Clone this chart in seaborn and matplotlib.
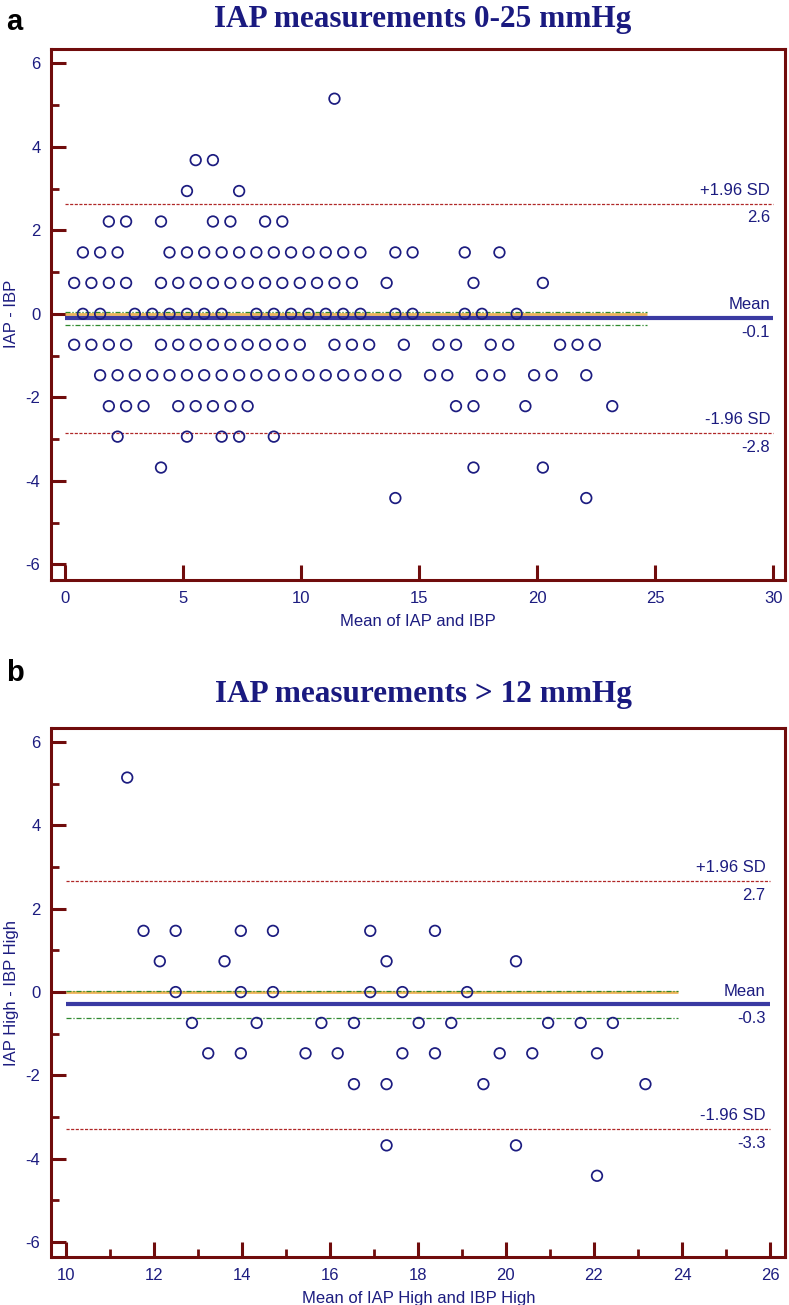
import matplotlib
matplotlib.use("Agg")
import matplotlib.pyplot as plt
from matplotlib.ticker import MultipleLocator
import numpy as np
import pandas as pd
import seaborn as sns

# ---------------- data ----------------
# Panel a: IAP measurements 0-25 mmHg  (difference level -> list of means)
a_levels = [5.15, 3.68, 2.94, 2.21, 1.47, 0.74, 0.0, -0.74, -1.47, -2.21, -2.94, -3.68, -4.41]
a_means = [
    [11.40],
    [5.52, 6.25],
    [5.15, 7.36],
    [1.84, 2.57, 4.05, 6.25, 6.99, 8.46, 9.19],
    [0.74, 1.47, 2.21, 4.41, 5.15, 5.88, 6.62, 7.36, 8.09, 8.83, 9.56, 10.30, 11.03,
     11.77, 12.50, 13.98, 14.71, 16.92, 18.39],
    [0.37, 1.10, 1.84, 2.57, 4.05, 4.78, 5.52, 6.25, 6.99, 7.72, 8.46, 9.19, 9.93,
     10.66, 11.40, 12.14, 13.61, 17.29, 20.23],
    [0.74, 1.47, 2.94, 3.68, 4.41, 5.15, 5.88, 6.62, 8.09, 8.83, 9.56, 10.30, 11.03,
     11.77, 12.50, 13.98, 14.71, 16.92, 17.65, 19.12],
    [0.37, 1.10, 1.84, 2.57, 4.05, 4.78, 5.52, 6.25, 6.99, 7.72, 8.46, 9.19, 9.93,
     11.40, 12.14, 12.87, 14.34, 15.81, 16.55, 18.02, 18.76, 20.96, 21.70, 22.43],
    [1.47, 2.21, 2.94, 3.68, 4.41, 5.15, 5.88, 6.62, 7.36, 8.09, 8.83, 9.56, 10.30,
     11.03, 11.77, 12.50, 13.24, 13.98, 15.45, 16.18, 17.65, 18.39, 19.86, 20.60, 22.07],
    [1.84, 2.57, 3.31, 4.78, 5.52, 6.25, 6.99, 7.72, 16.55, 17.29, 19.49, 23.17],
    [2.21, 5.15, 6.62, 7.36, 8.83],
    [4.05, 17.29, 20.23],
    [13.98, 22.07],
]
a_stats = {"mean": -0.1, "ci_hi": 0.04, "ci_lo": -0.26, "sd_hi": 2.64, "sd_lo": -2.85}
a_stat_labels = ["2.6", "-0.1", "-2.8"]

# Panel b: IAP measurements > 12 mmHg
b_levels = [5.15, 1.47, 0.74, 0.0, -0.74, -1.47, -2.21, -3.68, -4.41]
b_means = [
    [11.40],
    [11.77, 12.50, 13.98, 14.71, 16.92, 18.39],
    [12.14, 13.61, 17.29, 20.23],
    [12.50, 13.98, 14.71, 16.92, 17.65, 19.12],
    [12.87, 14.34, 15.81, 16.55, 18.02, 18.76, 20.96, 21.70, 22.43],
    [13.24, 13.98, 15.45, 16.18, 17.65, 18.39, 19.86, 20.60, 22.07],
    [16.55, 17.29, 19.49, 23.17],
    [17.29, 20.23],
    [22.07],
]
b_stats = {"mean": -0.29, "ci_hi": 0.02, "ci_lo": -0.63, "sd_hi": 2.67, "sd_lo": -3.28}
b_stat_labels = ["2.7", "-0.3", "-3.3"]

titles = ["IAP measurements 0-25 mmHg", "IAP measurements > 12 mmHg"]
xlabels = ["Mean of IAP and IBP", "Mean of IAP High and IBP High"]
ylabels = ["IAP - IBP", "IAP High - IBP High"]
panel_tags = ["a", "b"]


def to_frame(levels, means):
    rows = [(m, d) for d, ms in zip(levels, means) for m in ms]
    return pd.DataFrame(rows, columns=["mean", "diff"])


dfa = to_frame(a_levels, a_means)
dfb = to_frame(b_levels, b_means)

# ---------------- styling ----------------
sns.set_theme(style="white")
plt.rcParams["font.family"] = ["Liberation Sans", "DejaVu Sans"]
plt.rcParams["axes.unicode_minus"] = False

NAVY = "#1c1c80"
MAROON = "#700c0c"
BLUE = "#3a3aa2"
RED = "#b02828"
GREEN = "#2e8a2e"
ORANGE = "#efb458"

W, H = 789, 1305
fig = plt.figure(figsize=(W / 100, H / 100), dpi=100)


def fx(px):
    return px / W


def fy(py):
    return 1 - py / H


left_px, right_px = 51.5, 785
axA = fig.add_axes([fx(left_px), fy(579.5), fx(right_px - left_px), (579.5 - 49) / H])
axB = fig.add_axes([fx(left_px), fy(1257), fx(right_px - left_px), (1257 - 728) / H])


def draw(ax, df, stats, stat_labels, xlim, line_span, ci_end, text_x,
         xmajor, xminor, xlabel, ylabel):
    x0, x1 = line_span
    ax.hlines(0, x0, ci_end, color=ORANGE, lw=2.0, zorder=1)
    ax.hlines([stats["ci_hi"], stats["ci_lo"]], x0, ci_end, color=GREEN, lw=0.9,
              linestyles=[(0, (4, 1.5, 1, 1.5))], zorder=2)
    ax.hlines(stats["mean"], x0, x1, color=BLUE, lw=3.0, zorder=3)
    ax.hlines([stats["sd_hi"], stats["sd_lo"]], x0, x1, color=RED, lw=0.9,
              linestyles=[(0, (2.5, 1.2))], zorder=2)
    sns.scatterplot(data=df, x="mean", y="diff", ax=ax, marker="o", s=58,
                    facecolors="none", edgecolor=NAVY, linewidth=1.25,
                    zorder=4, legend=False)

    kw = dict(textcoords="offset points", ha="right", fontsize=12, color=NAVY)
    for name, value, lab in [("+1.96 SD", stats["sd_hi"], stat_labels[0]),
                             ("Mean", stats["mean"], stat_labels[1]),
                             ("-1.96 SD", stats["sd_lo"], stat_labels[2])]:
        ax.annotate(name, xy=(text_x, value), xytext=(0, 4), va="bottom", **kw)
        ax.annotate(lab, xy=(text_x, value), xytext=(0, -5), va="top", **kw)

    ax.set_xlim(*xlim)
    ax.set_ylim(-6.36, 6.34)
    ax.xaxis.set_major_locator(MultipleLocator(xmajor))
    if xminor:
        ax.xaxis.set_minor_locator(MultipleLocator(xminor))
    ax.yaxis.set_major_locator(MultipleLocator(2))
    ax.yaxis.set_minor_locator(MultipleLocator(1))
    ax.tick_params(which="major", direction="in", length=11, width=2.2,
                   color=MAROON, labelcolor=NAVY, labelsize=12, pad=8)
    ax.tick_params(which="minor", direction="in", length=5.5, width=2.0,
                   color=MAROON)
    ax.tick_params(axis="y", which="both", left=True)
    ax.tick_params(axis="x", which="both", bottom=True)
    for s in ax.spines.values():
        s.set_color(MAROON)
        s.set_linewidth(2.2)
    ax.set_xlabel(xlabel, color=NAVY, fontsize=12, labelpad=6)
    ax.set_ylabel(ylabel, color=NAVY, fontsize=12, labelpad=5)
    ax.grid(False)


draw(axA, dfa, a_stats, a_stat_labels, (-0.59, 30.49), (0, 30), 24.63, 29.86,
     5, None, xlabels[0], ylabels[0])
draw(axB, dfb, b_stats, b_stat_labels, (9.68, 26.34), (10, 26), 23.9, 25.9,
     2, 1, xlabels[1], ylabels[1])

title_kw = dict(ha="center", va="baseline", fontsize=22.5, fontweight="bold",
                color="#1a1a80", family=["Liberation Serif", "DejaVu Serif"])
fig.text(fx(423), fy(27), titles[0], **title_kw)
fig.text(fx(423), fy(702), titles[1], **title_kw)

tag_kw = dict(ha="left", va="baseline", fontsize=21, fontweight="bold", color="black")
fig.text(fx(6), fy(30), panel_tags[0], **tag_kw)
fig.text(fx(6), fy(681), panel_tags[1], **tag_kw)

fig.savefig("out.png", dpi=100)
